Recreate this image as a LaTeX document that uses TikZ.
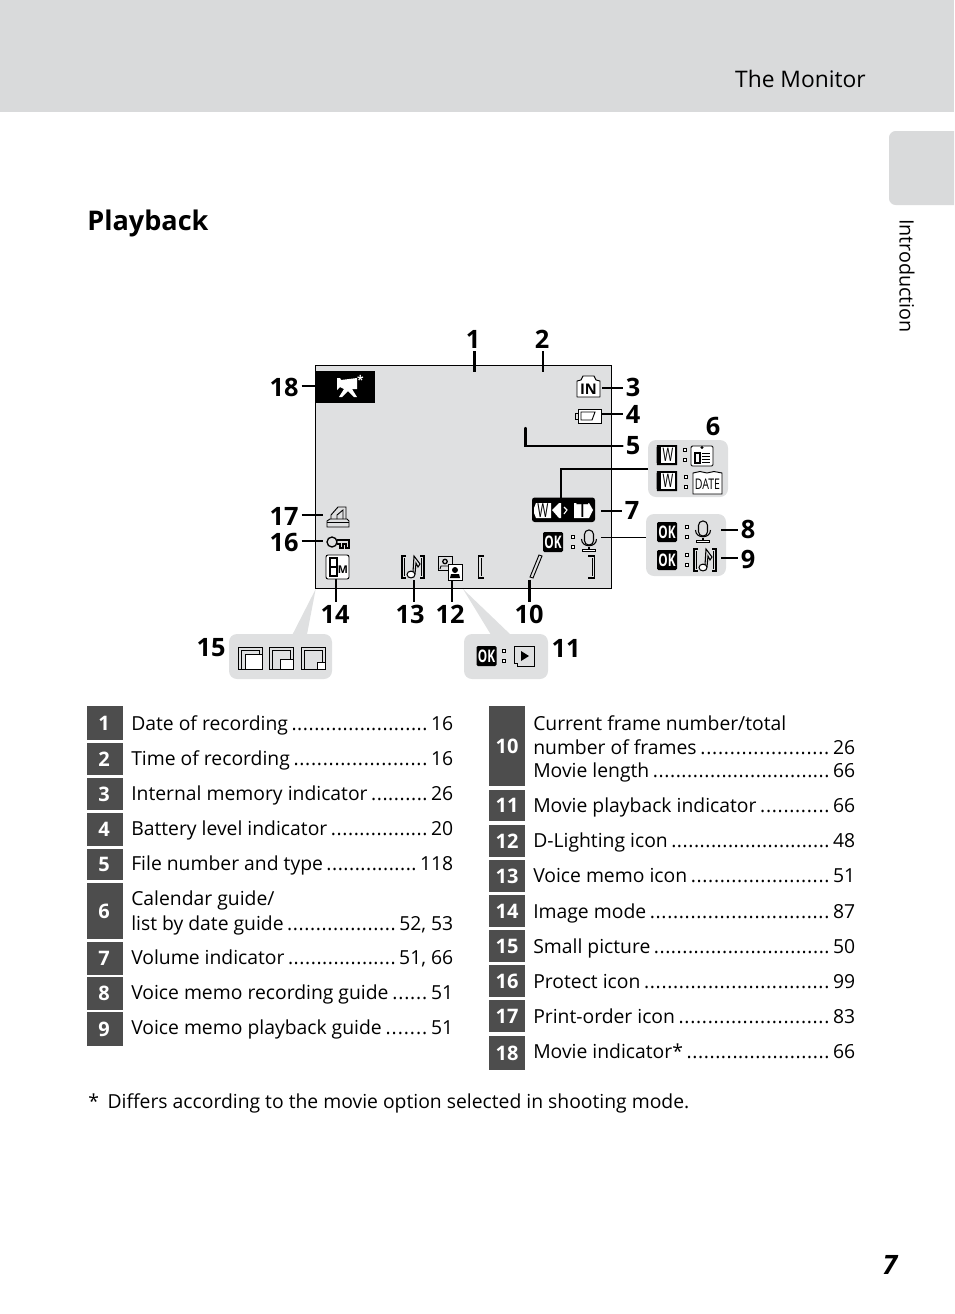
\documentclass[tikz,border=0pt]{standalone}
\usepackage{fontspec}
\setmainfont{Open Sans}
\usetikzlibrary{calc}
\definecolor{band}{HTML}{D9DADB}
\definecolor{panel}{HTML}{DFE0E1}
\definecolor{rowbg}{HTML}{4D4D4D}
\tikzset{
  lead/.style={line width=1.8pt,black},
  thinlead/.style={line width=.9pt,black},
  num/.style={font=\fontsize{19}{19}\bfseries\selectfont,inner sep=2.2pt},
  callout/.style={fill=panel,rounded corners=6pt},
  rowbox/.style={fill=rowbg},
  rownum/.style={font=\fontsize{15}{15}\bfseries\selectfont,text=white,inner sep=0pt},
  rowtext/.style={font=\fontsize{14.5}{18}\selectfont,inner sep=0pt,anchor=base west,text=black},
  icon/.style={line width=.7pt,black},
  itext/.style={inner sep=0pt,font=\bfseries\fontsize{9}{9}\selectfont}
}
\newcommand{\pdots}{\xleaders\hbox to 4.25pt{\hss.\hss}\hfill}
\newcommand{\trow}[6]{% name, x, baseline y, width in pt, text, page
  \node[rowtext] (#1) at (#2,#3) {\makebox[#4pt][s]{#5\,\pdots\,#6}};}
\newcommand{\tline}[4]{\node[rowtext] (#1) at (#2,#3) {#4};}
\newcommand{\okicon}[3]{\fill[rounded corners=1pt] (#2-10,#3-10) rectangle (#2+10,#3+10);
  \node[itext,text=white,xscale=.68,font=\bfseries\fontsize{13}{13}\selectfont] (#1) at (#2,#3) {OK};}
\newcommand{\colonicon}[2]{\draw[line width=.6pt,fill=white] (#1-1.7,#2-6.7) rectangle (#1+1.7,#2-3.3);
  \draw[line width=.6pt,fill=white] (#1-1.7,#2+3.3) rectangle (#1+1.7,#2+6.7);}
\newcommand{\micicon}[2]{\begin{scope}[shift={(#1,#2)},icon]
  \draw[rounded corners=3.2pt,line width=.8pt] (-4.5,-11) rectangle (4.5,4);
  \draw[line width=.8pt] (-7.5,-2) .. controls (-7.5,7) and (7.5,7) .. (7.5,-2);
  \draw[line width=.8pt] (0,6) -- (0,8);
  \draw[fill=white,line width=.6pt] (-6.5,8) rectangle (6.5,10.5);
  \end{scope}}
\newcommand{\noteicon}[2]{\begin{scope}[shift={(#1,#2)},icon]
  \draw[line width=.8pt] (-7,-11) -- (-11,-11) -- (-11,11) -- (-7,11);
  \draw[line width=.5pt] (-8.5,-9) -- (-8.5,9);
  \draw[line width=.8pt] (7,-11) -- (11,-11) -- (11,11) -- (7,11);
  \draw[line width=.5pt] (8.5,-9) -- (8.5,9);
  \draw[line width=.8pt] (0,5) -- (1,-11) -- (7,-3) -- (5,0) -- (3,-4) -- (2,7);
  \draw[fill=white,line width=.8pt] (-2,7.5) circle[x radius=4,y radius=3.4];
  \end{scope}}
\newcommand{\wicon}[3]{\fill (#2-10,#3-10) -- (#2+10,#3-10) -- (#2+10,#3+10) -- (#2-10,#3+10) -- (#2-10.5,#3+6) -- (#2-10.5,#3-6) -- cycle;
  \fill[white] (#2-6,#3-8) rectangle (#2+8,#3+8);
  \node[itext,xscale=.62,font=\fontsize{14}{14}\selectfont] (#1) at (#2+1,#3) {W};}
\newcommand{\picicon}[4]{\begin{scope}[shift={(#1,#2)},line width=.55pt,black]
  \draw (0,22) -- (0,0) -- (24,0) -- (24,22) -- cycle;
  \draw (3,22) -- (3,3) -- (21,3) -- (21,22);
  \draw[fill=white,line width=.7pt] (24-#3,22-#4) rectangle (24,22);
  \end{scope}}
\begin{document}
\begin{tikzpicture}[x=.75pt,y=-.75pt]
\useasboundingbox (0,0) rectangle (954,1314);
% page furniture
\fill[band] (0,0) rectangle (954,112);
\fill[band] (954,131) -- (896,131) [rounded corners=5pt] -- (889,131) -- (889,205) [sharp corners] -- (954,205) -- cycle;
\node[inner sep=0pt,anchor=base east,font=\fontsize{17.1}{17}\selectfont] (monitor) at (866,87) {The Monitor};
\node[inner sep=0pt,rotate=-90,font=\fontsize{14.8}{14}\selectfont] (intro) at (907,276) {Introduction};
\node[inner sep=0pt,anchor=base west,font=\fontsize{20.3}{22}\bfseries\selectfont] (title) at (87,230) {Playback};
\node[inner sep=0pt,font=\fontsize{20}{20}\bfseries\itshape\selectfont] (pageno) at (890,1265) {7};
% wedges and callouts
\fill[panel] (315.7,589) -- (291.7,636) -- (306.7,636) -- cycle;
\fill[panel] (463,589) -- (491.7,636) -- (512,636) -- cycle;
\path[callout] (648,440) rectangle (728,497);
\path[callout] (646,514) rectangle (726,576);
\path[callout] (229,634) rectangle (332,679);
\path[callout] (464,634) rectangle (548,679);
% screen
\node[draw=black,line width=.9pt,fill=panel,minimum width=222pt,minimum height=167pt,inner sep=0pt] (screen) at (463.7,477) {};
\fill (316,371) rectangle (375,402.7);
% movie indicator
\fill[white] (337,378) -- (340,378) -- (341,380) -- (357,378) -- (357,389) -- (352,389) -- (357,397) -- (354,397) -- (348,391) -- (342,397) -- (339,397) -- (344,389) -- (340,387) -- (337,390) -- cycle;
\node[inner sep=0pt,text=white,font=\bfseries\fontsize{9}{9}\selectfont] (star) at (360.5,380) {*};
% numbers
\node[num] (n1) at (473,339) {1};
\node[num] (n2) at (542,339) {2};
\node[num] (n3) at (633,387) {3};
\node[num] (n4) at (633,414) {4};
\node[num] (n5) at (633,446) {5};
\node[num] (n6) at (713,426) {6};
\node[num] (n7) at (632,510) {7};
\node[num] (n8) at (748,529) {8};
\node[num] (n9) at (748,559) {9};
\node[num] (n10) at (529,614) {10};
\node[num] (n11) at (566,648) {11};
\node[num] (n12) at (450,614) {12};
\node[num] (n13) at (410,614) {13};
\node[num] (n14) at (335,614) {14};
\node[num] (n15) at (211,648) {15};
\node[num] (n16) at (284,542) {16};
\node[num] (n17) at (284,516) {17};
\node[num] (n18) at (284,387) {18};
% connector ends
\coordinate (e1) at (474.3,372.3);
\coordinate (e2) at (542.7,372);
\coordinate (e3) at (601.7,388);
\coordinate (e4) at (601.5,414);
\coordinate (e5) at (525.3,428);
\coordinate (e6a) at (648,469);
\coordinate (e6b) at (561,498);
\coordinate (e7) at (600.7,511);
\coordinate (e8) at (721,530);
\coordinate (e9) at (721,558);
\coordinate (e10) at (529.3,580);
\coordinate (e12) at (451.7,578);
\coordinate (e13) at (414,580);
\coordinate (e14) at (336,578);
\coordinate (e16) at (323,541);
\coordinate (e17) at (323,515);
\coordinate (e18) at (316,386);
\coordinate (m1) at (601,537.7);
\coordinate (m2) at (646,537.7);
\draw[lead] (n1.south -| e1) -- (e1);
\draw[lead,line width=1.2pt] (n2.south -| e2) -- (e2);
\draw[lead] (n3.west |- e3) -- (e3);
\draw[lead] (n4.west |- e4) -- (e4);
\draw[lead,line cap=round] (n5.west) -- (n5.west -| e5) -- (e5);
\draw[lead] (e6a) -- (e6a -| e6b) -- (e6b);
\draw[lead] (n7.west |- e7) -- (e7);
\draw[lead] (n8.west |- e8) -- (e8);
\draw[lead] (n9.west |- e9) -- (e9);
\draw[lead] (n10.north -| e10) -- (e10);
\draw[lead] (n12.north -| e12) -- (e12);
\draw[lead] (n13.north -| e13) -- (e13);
\draw[lead] (n14.north -| e14) -- (e14);
\draw[lead] (n16.east |- e16) -- (e16);
\draw[lead] (n17.east |- e17) -- (e17);
\draw[lead] (n18.east |- e18) -- (e18);
\draw[thinlead] (m1) -- (m2);
% screen icons
\draw[icon,fill=white,line join=round] (577,397) -- (577,381) -- (581,380) -- (583,376) -- (594,376) -- (596,380) -- (600,381) -- (600,397) -- cycle;
\node[itext,font=\bfseries\fontsize{11}{11}\selectfont] (inlab) at (588.5,389) {IN};
\draw[icon,fill=white] (578,409) rectangle (601,423);
\draw[icon] (575.5,413) rectangle (578,419);
\draw[icon] (581,412) -- (595,412) -- (592,420) -- (581,420) -- cycle;
% print icon
\begin{scope}[shift={(326,505)},icon]
\draw (5,14) -- (5,10) -- (12,2) -- (20,2) -- (20,14);
\draw (11,14) -- (11,10) -- (17,5) -- (17,14);
\draw (4,14) -- (1,16) -- (1,22) -- (23,22) -- (23,16) -- (21,14) -- cycle;
\draw (1,17) -- (23,17);
\end{scope}
% key icon
\begin{scope}[shift={(326,536)},icon]
\draw[line width=1pt] (6,6) circle[radius=5];
\draw[line width=1pt] (11,4) -- (23,4) -- (23,12) -- (20,12) -- (20,8) -- (17,8) -- (17,12) -- (14,12) -- (14,8) -- (11,8);
\end{scope}
% image mode
\draw[icon,fill=white,rounded corners=1.5pt] (326,555) rectangle (349,579);
\draw[icon,line width=1.1pt] (330,558) rectangle (337,576);
\draw[icon,line width=1.1pt] (330,567) -- (337,567);
\node[itext,font=\bfseries\fontsize{8}{8}\selectfont] (mlab) at (343,570) {M};
% voice memo icon
\noteicon{413}{567}
% d-lighting icon
\begin{scope}[shift={(438,556)},icon]
\draw (0,0) rectangle (14,14);
\draw[line width=1pt] (7,5.5) circle[radius=2.2];
\draw (2,13) -- (3,10) -- (11,10) -- (12,13);
\draw[fill=white] (10,8) rectangle (24,24);
\fill (17,14) circle[radius=3];
\fill (12,22) -- (13,18) -- (21,18) -- (22,22) -- cycle;
\end{scope}
% frame counter brackets
\draw[line width=.8pt] (484,556) -- (478.5,556) -- (478.5,578) -- (484,578);
\draw[line width=.5pt] (481,558) -- (481,576);
\draw[line width=.8pt] (588,556) -- (594.5,556) -- (594.5,578) -- (588,578);
\draw[line width=.5pt] (592,558) -- (592,576);
\draw[line width=.7pt] (539,555) -- (542,556) -- (533,578) -- (530,577) -- cycle;
% volume indicator
\fill[rounded corners=2pt] (532,497.5) rectangle (595,522);
\fill[white] (536,503) -- (551,503) -- (551,518) -- (536,518) -- (534,513) -- (534,508) -- cycle;
\node[itext,font=\fontsize{14.5}{14}\selectfont,xscale=.62] (wlab) at (543,510.5) {W};
\fill[white] (552,510) -- (559,503) -- (561,503) -- (561,518) -- (559,518) -- cycle;
\draw[white,line width=.8pt] (564,507) -- (567,510) -- (564,514);
\fill[white] (574,503) -- (589,503) -- (593,510) -- (589,518) -- (574,518) -- cycle;
\node[itext,font=\fontsize{15}{15}\selectfont,xscale=1.1] (tlab) at (582.5,510.5) {T};
% OK mic
\okicon{ok1}{553}{542}
\colonicon{573}{542}
\micicon{589}{541}
% callout 6
\wicon{w1}{667}{455}
\colonicon{685}{455}
\begin{scope}[shift={(691,444)},icon]
\draw[fill=white,rounded corners=1pt] (0,2) rectangle (22,22);
\fill (11,3.5) circle[radius=1.6];
\draw[line width=1pt] (4,9) rectangle (9,19);
\draw (11,9) -- (19,9) (11,12) -- (19,12) (11,15) -- (19,15) (11,18) -- (19,18);
\end{scope}
\wicon{w2}{667}{481}
\colonicon{686}{482}
\draw[icon,fill=white] (693,494) -- (693,473) -- (700,471.5) -- (707,473) -- (714,471.5) -- (722,473) -- (722,494) -- cycle;
\node[itext,xscale=.72,font=\fontsize{11}{11}\selectfont] (datelab) at (707.5,484) {DATE};
% callout 8 9
\okicon{ok2}{667}{532}
\colonicon{687}{532}
\micicon{703}{532}
\okicon{ok3}{667}{560}
\colonicon{687}{560}
\noteicon{705}{560}
% callout 15
\picicon{238}{647}{17}{15}
\picicon{269.5}{647}{13}{10}
\picicon{301}{647}{8}{7}
% callout 11
\okicon{ok4}{486.5}{656}
\colonicon{504}{656}
\begin{scope}[shift={(514,646)},icon]
\draw (0,0) -- (20,0) -- (20,20) -- (3,20) -- (3,17) -- (0,17) -- cycle;
\fill (7,5) -- (15,10) -- (7,15) -- cycle;
\end{scope}
% table left
\foreach \nm/\lab/\a/\b in {b1/1/706/740,b2/2/743/775,b3/3/778/810,b4/4/813/846,b5/5/849/880,b6/6/883/939,b7/7/942/975,b8/8/977/1010,b9/9/1012/1046}{
  \fill[rowbg] (87,\a) rectangle (123,\b);
  \node[rownum] (\nm) at (104,{(\a+\b)/2}) {\lab};
}
\foreach \nm/\lab/\a/\b in {c10/10/706/786,c11/11/790/821,c12/12/825/857,c13/13/860/892,c14/14/895/927,c15/15/930/962,c16/16/965/997,c17/17/1000/1032,c18/18/1036/1070}{
  \fill[rowbg] (489,\a) rectangle (525,\b);
  \node[rownum] (\nm) at (507,{(\a+\b)/2}) {\lab};
}
\trow{t1}{131}{730}{241.5}{Date of recording}{16}
\trow{t2}{131}{765}{241.5}{Time of recording}{16}
\trow{t3}{131}{800}{241.5}{Internal memory indicator}{26}
\trow{t4}{131}{835}{241.5}{Battery level indicator}{20}
\trow{t5}{131}{870}{241.5}{File number and type}{118}
\tline{t6a}{131}{905}{Calendar guide/}
\trow{t6b}{131}{930}{241.5}{list by date guide}{52, 53}
\trow{t7}{131}{964}{241.5}{Volume indicator}{51, 66}
\trow{t8}{131}{999}{241.5}{Voice memo recording guide}{51}
\trow{t9}{131}{1034}{241.5}{Voice memo playback guide}{51}
\tline{t10a}{533}{730}{Current frame number/total}
\trow{t10b}{533}{754}{241.5}{number of frames}{26}
\trow{t10c}{533}{777}{241.5}{Movie length}{66}
\trow{t11}{533}{812}{241.5}{Movie playback indicator}{66}
\trow{t12}{533}{847}{241.5}{D-Lighting icon}{48}
\trow{t13}{533}{882}{241.5}{Voice memo icon}{51}
\trow{t14}{533}{918}{241.5}{Image mode}{87}
\trow{t15}{533}{953}{241.5}{Small picture}{50}
\trow{t16}{533}{988}{241.5}{Protect icon}{99}
\trow{t17}{533}{1023}{241.5}{Print-order icon}{83}
\trow{t18}{533}{1058}{241.5}{Movie indicator*}{66}
\node[rowtext] (foot) at (88,1108) {*\hspace{6.5pt}Differs according to the movie option selected in shooting mode.};
\end{tikzpicture}
\end{document}
